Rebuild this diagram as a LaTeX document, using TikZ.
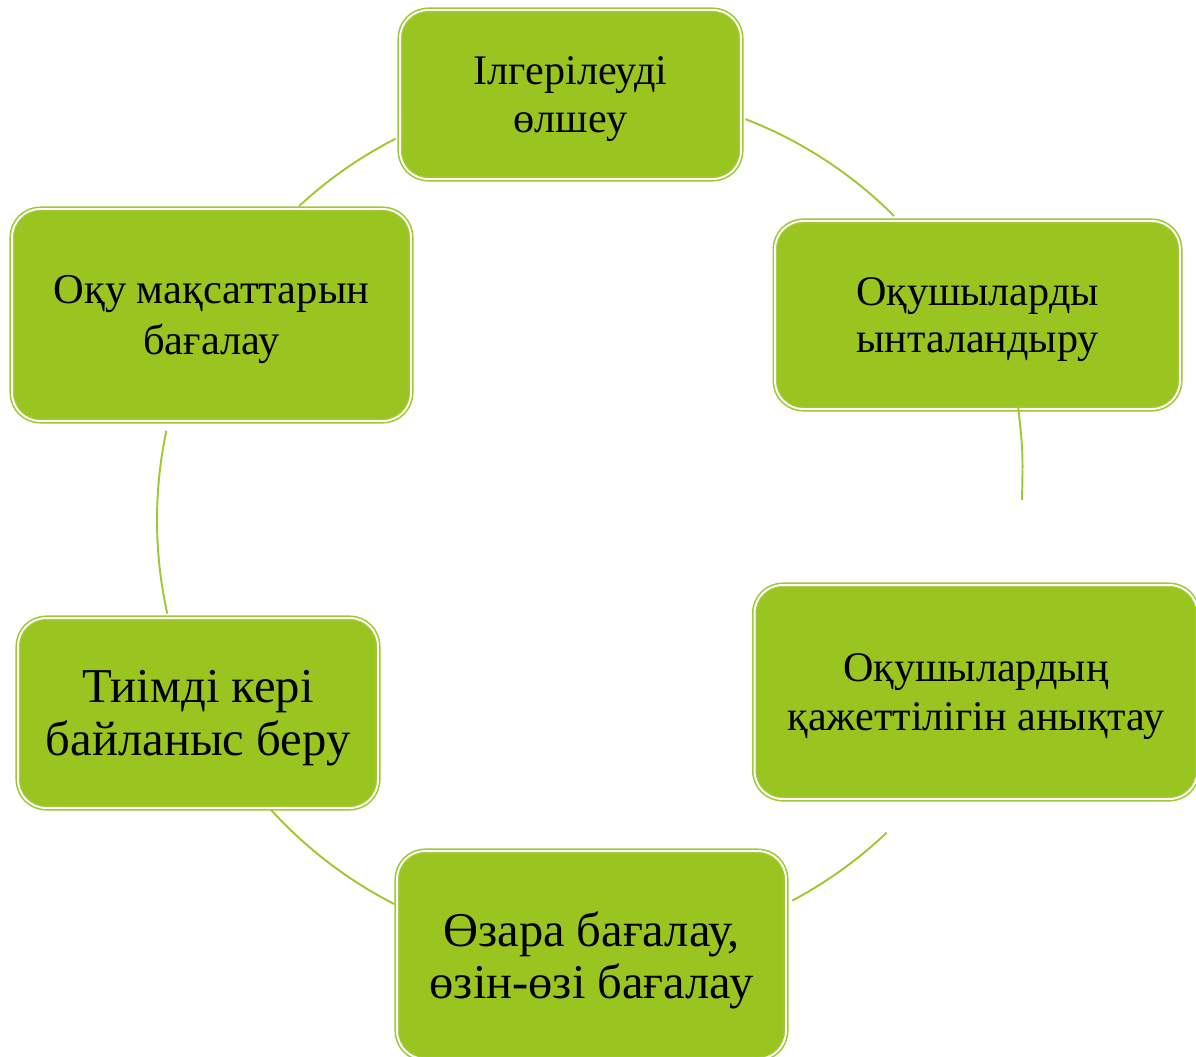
\documentclass[tikz,border=0pt]{standalone}
\usepackage{fontspec}
\setmainfont{Liberation Serif}
\definecolor{leaf}{RGB}{154,196,32}
\definecolor{leafline}{RGB}{160,200,50}

\begin{document}
\begin{tikzpicture}[x=0.02cm, y=-0.02cm,
    stage/.style={rectangle, rounded corners=16pt, fill=leaf, draw=leafline,
      line width=0.9pt, double=white, double distance=1.1pt, align=center,
      inner sep=0pt, text depth=0pt},
    link/.style={draw=leafline, line width=1.1pt}]
  \useasboundingbox (0,0) rectangle (1196,1056);
  \clip (0,0) rectangle (1196,1056);

  \coordinate (O) at (590,520);

  % стадии цикла
  \node[stage, minimum width=6.82cm, minimum height=3.38cm,
    font=\fontsize{24}{27}\selectfont] (olshey) at (570.5,94.5)
    {Ілгерілеуді\\өлшеу};
  \node[stage, minimum width=8.10cm, minimum height=3.76cm,
    font=\fontsize{24}{26.5}\selectfont] (yntalandyru) at (977.5,315)
    {Оқушыларды\\ынталандыру};
  \node[stage, minimum width=8.86cm, minimum height=4.28cm,
    font=\fontsize{24}{27.5}\selectfont] (kazhet) at (976,692)
    {Оқушылардың\\қажеттілігін анықтау};
  \node[stage, minimum width=7.78cm, minimum height=4.16cm,
    font=\fontsize{27.6}{29.5}\selectfont] (ozara) at (591.5,955)
    {Өзара бағалау,\\өзін-өзі бағалау};
  \node[stage, minimum width=7.20cm, minimum height=3.80cm,
    font=\fontsize{27.7}{30.5}\selectfont] (keri) at (198,713)
    {Тиімді кері\\байланыс беру};
  \node[stage, minimum width=7.98cm, minimum height=4.24cm,
    font=\fontsize{24.2}{29}\selectfont] (maksat) at (211.5,315)
    {Оқу мақсаттарын\\бағалау};

  % доғалар
  \coordinate (r1) at (1018,405);
  \coordinate (r2) at (1022,500);
  \draw[link] ([shift={(O)}]-68.8:430) arc[start angle=-68.8, end angle=-45, radius=430];
  \draw[link] (r1) .. controls (1023,452) .. (r2);
  \draw[link] ([shift={(O)}]46.5:431) arc[start angle=46.5, end angle=62, radius=431];
  \draw[link] ([shift={(O)}]117:431) arc[start angle=117, end angle=137.8, radius=431];
  \draw[link] ([shift={(O)}]167.5:433) arc[start angle=167.5, end angle=191.9, radius=433];
  \draw[link] ([shift={(O)}]227.2:428) arc[start angle=227.2, end angle=243, radius=428];
\end{tikzpicture}
\end{document}
